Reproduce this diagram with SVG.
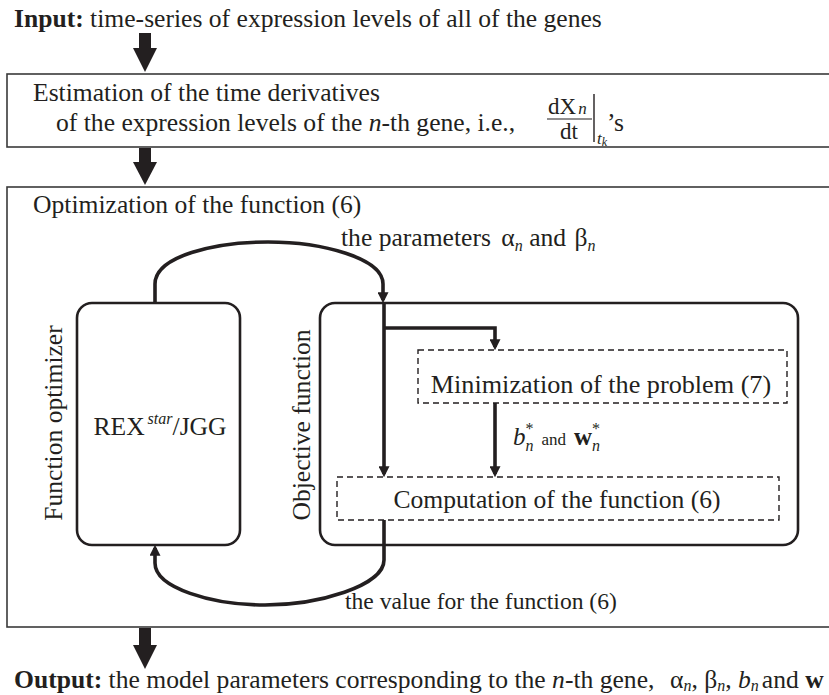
<svg xmlns="http://www.w3.org/2000/svg" width="829" height="695" viewBox="0 0 829 695">
<style>
text{font-family:"Liberation Serif","Times New Roman",serif;fill:#231f20}
.t{font-size:25.6px}
.b{font-weight:bold}
.i{font-style:italic}
.frame{fill:none;stroke:#3a3a3a;stroke-width:1.6}
.node{fill:#fff;stroke:#231f20;stroke-width:2.6}
.dash{fill:none;stroke:#231f20;stroke-width:1.4;stroke-dasharray:6 4}
.con{fill:none;stroke:#231f20;stroke-width:3.6}
.block{fill:#231f20}
</style>
<defs>
<marker id="ah" viewBox="0 0 10 10" refX="7" refY="5" markerWidth="11" markerHeight="11" markerUnits="userSpaceOnUse" orient="auto">
<path d="M0,0 L10,5 L0,10 z" fill="#231f20"/>
</marker>
</defs>

<g id="input">
<text class="t" x="14" y="27"><tspan class="b">Input:</tspan> time-series of expression levels of all of the genes</text>
</g>

<g id="arrow-in">
<rect class="block" x="139" y="33" width="12" height="16"/>
<polygon class="block" points="133,48 157,48 145,72"/>
</g>

<g id="estimation">
<rect class="frame" x="7" y="74" width="840" height="73"/>
<text class="t" x="33" y="101">Estimation of the time derivatives</text>
<text class="t" x="56" y="131">of the expression levels of the <tspan class="i">n</tspan>-th gene, i.e.,</text>
<text x="548" y="114" style="font-size:23px">dX<tspan class="i" style="font-size:17px" dx="2">n</tspan></text>
<line x1="547" y1="119" x2="592" y2="119" stroke="#231f20" stroke-width="1.2"/>
<text x="569" y="139" text-anchor="middle" style="font-size:23px">dt</text>
<line x1="594" y1="94" x2="594" y2="142" stroke="#231f20" stroke-width="1.4"/>
<text x="597" y="144" class="i" style="font-size:17px">t<tspan style="font-size:12px" dy="2">k</tspan></text>
<text class="t" x="607" y="131">’s</text>
</g>

<g id="arrow-mid">
<rect class="block" x="139" y="148" width="12" height="15"/>
<polygon class="block" points="133,162 157,162 145,185"/>
</g>

<g id="optimization">
<rect class="frame" x="7" y="187" width="840" height="440"/>
<text class="t" x="33" y="213">Optimization of the function (6)</text>
</g>

<g id="function-optimizer">
<rect class="node" x="77" y="303" width="163" height="242" rx="15"/>
<text class="t" transform="translate(62,423) rotate(-90)" text-anchor="middle">Function optimizer</text>
<text class="t" x="160" y="435" text-anchor="middle">REX<tspan class="i" style="font-size:16px" dx="3" dy="-11">star</tspan><tspan dy="11">/JGG</tspan></text>
</g>

<g id="objective-function">
<rect class="node" x="320" y="303" width="478" height="242" rx="15"/>
<text class="t" transform="translate(310,425) rotate(-90)" text-anchor="middle">Objective function</text>
</g>

<g id="minimization">
<rect class="dash" x="418" y="350" width="369" height="53"/>
<text class="t" x="601" y="393" text-anchor="middle" style="font-size:26.2px">Minimization of the problem (7)</text>
</g>

<g id="computation">
<rect class="dash" x="337" y="477" width="442" height="43"/>
<text class="t" x="557" y="508" text-anchor="middle">Computation of the function (6)</text>
</g>

<g id="connectors">
<path class="con" d="M155,303 L155,284 C155,256 215,242 268,242 C322,242 383,258 383,284 L383,300" marker-end="url(#ah)"/>
<path class="con" d="M384,303 L384,474" marker-end="url(#ah)"/>
<path class="con" d="M384,328 L495,328 L495,347" marker-end="url(#ah)"/>
<path class="con" d="M495,403 L495,474" marker-end="url(#ah)"/>
<path class="con" d="M384,520 L384,560 C384,586 318,605 265,605 C212,605 155,588 155,563 L155,548" marker-end="url(#ah)"/>
<text class="t" x="341" y="246">the parameters <tspan dx="4">α</tspan><tspan class="i" style="font-size:16px" dy="5">n</tspan><tspan dy="-5"> and </tspan><tspan dx="2">β</tspan><tspan class="i" style="font-size:16px" dy="5">n</tspan></text>
<text x="513" y="445" style="font-size:25px"><tspan class="i">b</tspan><tspan class="i" style="font-size:16px" dy="6">n</tspan><tspan style="font-size:16px" dx="-8" dy="-17">*</tspan><tspan style="font-size:17px" dx="8" dy="11">and</tspan><tspan class="b" dx="8">w</tspan><tspan class="i" style="font-size:16px" dy="6">n</tspan><tspan style="font-size:16px" dx="-8" dy="-17">*</tspan></text>
<text x="345" y="609" style="font-size:23.6px">the value for the function (6)</text>
</g>

<g id="arrow-out">
<rect class="block" x="139" y="628" width="12" height="18"/>
<polygon class="block" points="133,645 157,645 145,669"/>
</g>

<g id="output">
<text class="t" x="14" y="688"><tspan class="b">Output:</tspan> the model parameters corresponding to the <tspan class="i">n</tspan>-th gene,</text>
<text class="t" x="670" y="688">α<tspan class="i" style="font-size:16px" dy="3">n</tspan><tspan dy="-3">, β</tspan><tspan class="i" style="font-size:16px" dy="3">n</tspan><tspan dy="-3">, </tspan><tspan class="i">b</tspan><tspan class="i" style="font-size:16px" dy="3">n</tspan><tspan dy="-3" dx="3">and </tspan><tspan class="b">w</tspan></text>
</g>
</svg>
